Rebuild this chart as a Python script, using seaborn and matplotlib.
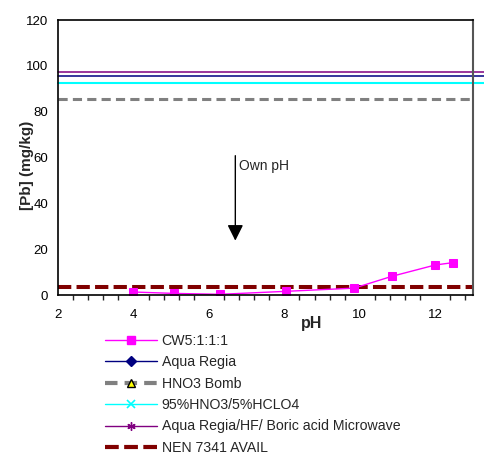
import numpy as np
import pandas as pd
import matplotlib
matplotlib.use("Agg")
import matplotlib.pyplot as plt
from matplotlib.lines import Line2D
from matplotlib.ticker import MultipleLocator
import seaborn as sns

sns.set_style("white")
plt.rcParams["font.family"] = ["Liberation Sans", "DejaVu Sans"]

# CW5:1:1:1 leaching test, Pb vs pH
ph = [4.0, 5.07, 6.3, 8.04, 9.85, 10.86, 12.0, 12.46]
pb = [1.3, 0.7, 0.3, 1.6, 3.0, 8.2, 13.1, 14.1]

# total / reference digestions (constant over pH)
ref_names = ["Aqua Regia", "HNO3 Bomb", "95%HNO3/5%HCLO4",
             "Aqua Regia/HF/ Boric acid Microwave", "NEN 7341 AVAIL"]
ref_values = [95.5, 85.4, 92.3, 97.2, 3.6]
ph_span = [2.0, 13.28]

fig = plt.figure(figsize=(4.84, 4.61), dpi=100)
ax = fig.add_axes([58 / 484, 1 - 295 / 461, 415 / 484, 275 / 461])

refs = pd.DataFrame({
    "pH": ph_span * len(ref_names),
    "Pb": np.repeat(ref_values, 2),
    "method": np.repeat(ref_names, 2),
})

styles = {
    "Aqua Regia": dict(color="#000080", lw=1.1, clip_on=False),
    "HNO3 Bomb": dict(color="#808080", lw=2.2, dashes=(3, 1.7), clip_on=True),
    "95%HNO3/5%HCLO4": dict(color="#00FFFF", lw=1.5, clip_on=False),
    "Aqua Regia/HF/ Boric acid Microwave": dict(color="#800080", lw=1.1, clip_on=False),
    "NEN 7341 AVAIL": dict(color="#800000", lw=2.9, dashes=(3.3, 1.3), clip_on=True),
}
for name in ref_names:
    st = dict(styles[name])
    dashes = st.pop("dashes", None)
    sub = refs[refs["method"] == name]
    line = sns.lineplot(data=sub, x="pH", y="Pb", ax=ax, legend=False, **st).lines[-1]
    if dashes:
        line.set_dashes(dashes)

sns.lineplot(x=ph, y=pb, ax=ax, color="#FF00FF", lw=1.0, marker="s",
             markersize=5.5, markeredgecolor="#FF00FF", legend=False)

ax.set_xlim(2, 13)
ax.set_ylim(0, 120)
ax.set_xticks([2, 4, 6, 8, 10, 12])
ax.xaxis.set_minor_locator(MultipleLocator(0.4))
ax.set_yticks(range(0, 121, 20))
ax.tick_params(axis="both", which="major", direction="out", length=4, width=1,
               labelsize=9.5, colors="black")
ax.tick_params(axis="x", which="minor", direction="out", length=3.5, width=1,
               bottom=True)
ax.tick_params(axis="x", which="major", pad=6)
ax.tick_params(axis="y", which="major", pad=3)
for side in ["left", "bottom", "top"]:
    ax.spines[side].set_color("black")
    ax.spines[side].set_linewidth(1.2)
ax.spines["right"].set_color("#555555")
ax.spines["right"].set_linewidth(1.5)

ax.set_xlabel("pH", fontsize=11.5, fontweight="bold", va="top")
ax.xaxis.set_label_coords(0.612, -0.078)
ax.set_ylabel("[Pb] (mg/kg)", fontsize=11, fontweight="bold")
ax.yaxis.set_label_coords(-0.058, 0.47)

ax.annotate("", xy=(6.7, 22.5), xytext=(6.7, 62),
            arrowprops=dict(arrowstyle="-|>", color="black", lw=1,
                            mutation_scale=24))
ax.text(6.8, 56.5, "Own pH", fontsize=10, va="center", ha="left")

handles = [
    Line2D([], [], color="#FF00FF", lw=1.0, marker="s", markersize=6,
           markeredgecolor="#FF00FF"),
    Line2D([], [], color="#000080", lw=1.0, marker="D", markersize=5),
    Line2D([], [], color="#808080", lw=3, dashes=(3, 1.7), marker="^",
           markersize=6, markerfacecolor="#FFFF00", markeredgecolor="black"),
    Line2D([], [], color="#00FFFF", lw=1.0, marker="x", markersize=6,
           markeredgewidth=1.2),
    Line2D([], [], color="#800080", lw=1.0, marker=(6, 2, 0), markersize=6),
    Line2D([], [], color="#800000", lw=3, dashes=(3.3, 1.3)),
]
labels = ["CW5:1:1:1"] + ref_names
fig.legend(handles, labels, loc="upper left",
           bbox_to_anchor=(105 / 484, 1 - 334 / 461), frameon=False,
           fontsize=10.2, handlelength=3.7, handletextpad=0.3,
           labelspacing=0.52, borderpad=0, borderaxespad=0)

fig.savefig("out.png", dpi=100)
